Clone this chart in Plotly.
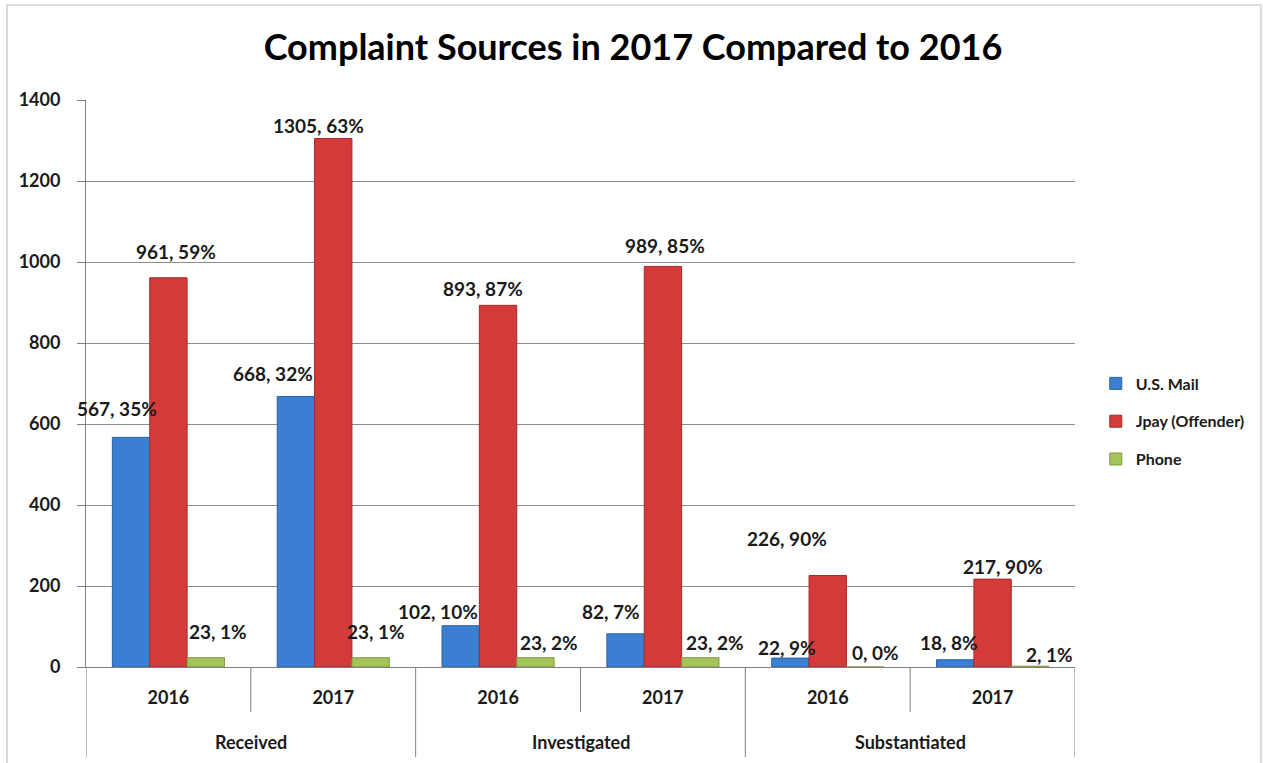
import plotly.graph_objects as go

# ---- data ----
stages = ["Received", "Investigated", "Substantiated"]
years = ["2016", "2017"]
series_names = ["U.S. Mail", "Jpay (Offender)", "Phone"]
us_mail = [567, 668, 102, 82, 22, 18]
us_mail_pct = ["35%", "32%", "10%", "7%", "9%", "8%"]
jpay = [961, 1305, 893, 989, 226, 217]
jpay_pct = ["59%", "63%", "87%", "85%", "90%", "90%"]
phone = [23, 23, 23, 23, 0, 2]
phone_pct = ["1%", "1%", "2%", "2%", "0%", "1%"]
y_ticks = [0, 200, 400, 600, 800, 1000, 1200, 1400]

# ---- styles ----
colors = ["#3a7fd2", "#d43a3a", "#a4c45a"]
edge_colors = ["#2c62a6", "#a52a2a", "#7f9a3e"]
# label nudges (px) relative to top-centre of each bar
nudge_dx = [[-14, -23, -23, -15, -3, -6],
            [8, -15, -15, 2, -41, 10],
            [12, 5, 14, 15, 10, 20]]
nudge_dy = [[29, 23, 14, 22, 11, 17],
            [26, 13, 17, 21, 37, 13],
            [26, 26, 15, 15, 15, 12]]

FONT = "Lato, 'Open Sans', sans-serif"
BARGAP = 0.32
n_series = 3
bar_w = (1 - BARGAP) / n_series

cat_labels = [y for s in stages for y in years]
x_pos = list(range(len(cat_labels)))

fig = go.Figure()
all_vals = [us_mail, jpay, phone]
all_pct = [us_mail_pct, jpay_pct, phone_pct]
for i, (name, vals) in enumerate(zip(series_names, all_vals)):
    fig.add_trace(go.Bar(
        x=x_pos, y=vals, name=name, legendgroup=name,
        marker=dict(color=colors[i], line=dict(color=edge_colors[i], width=1)),
        hoverinfo="y+name",
    ))

annotations = []
for i in range(n_series):
    off = (i - 1) * bar_w
    for k, (v, p) in enumerate(zip(all_vals[i], all_pct[i])):
        annotations.append(dict(
            x=x_pos[k] + off, y=v, xref="x", yref="y",
            text=f"{v}, {p}", showarrow=False,
            xanchor="center", yanchor="middle",
            xshift=nudge_dx[i][k], yshift=nudge_dy[i][k],
            font=dict(family=FONT, size=19, color="#1a1a1a", weight="bold"),
        ))

# outer category labels
for j, s in enumerate(stages):
    annotations.append(dict(
        x=2 * j + 0.5, y=-0.132, xref="x", yref="paper",
        text=s, showarrow=False, xanchor="center", yanchor="middle",
        font=dict(family=FONT, size=18, color="#1a1a1a", weight="bold"),
    ))

shapes = []
# inner dividers (between years)
for j in range(len(stages)):
    shapes.append(dict(type="line", xref="x", yref="paper",
                       x0=2 * j + 0.5, x1=2 * j + 0.5, y0=0, y1=-0.079,
                       line=dict(color="#7f7f7f", width=1)))
# outer dividers (between stages)
for j in range(len(stages) + 1):
    shapes.append(dict(type="line", xref="x", yref="paper",
                       x0=2 * j - 0.5, x1=2 * j - 0.5, y0=0, y1=-0.159,
                       line=dict(color="#7f7f7f", width=1)))
# chart border
shapes.append(dict(type="rect", xref="paper", yref="paper",
                   x0=-0.0799, x1=1.188, y0=-0.18, y1=1.1675,
                   line=dict(color="#cfcfcf", width=1.5), layer="below"))

fig.update_layout(
    width=1263, height=763,
    margin=dict(l=86, r=188, t=100, b=96),
    paper_bgcolor="white", plot_bgcolor="white",
    barmode="group", bargap=BARGAP, bargroupgap=0,
    title=dict(text="Complaint Sources in 2017 Compared to 2016",
               x=633 / 1263, xanchor="center", xref="container",
               y=1 - 47 / 763, yanchor="middle",
               font=dict(family=FONT, size=36, color="#000000", weight="bold")),
    legend=dict(x=1.021, xanchor="left", y=0.433, yanchor="middle",
                itemwidth=30,
                font=dict(family=FONT, size=16, color="#1a1a1a", weight="bold"),
                tracegroupgap=14, bgcolor="rgba(0,0,0,0)"),
    annotations=annotations, shapes=shapes,
    showlegend=True,
)
fig.update_xaxes(
    range=[-0.5, 5.5], tickvals=x_pos, ticktext=cat_labels,
    ticks="", showgrid=False, zeroline=False,
    showline=True, linecolor="#7f7f7f", linewidth=1,
    ticklabelstandoff=14,
    tickfont=dict(family=FONT, size=18, color="#1a1a1a", weight="bold"),
)
fig.update_yaxes(
    range=[0, 1400], tickvals=y_ticks,
    showgrid=True, gridcolor="#8c8c8c", gridwidth=1,
    zeroline=False, showline=True, linecolor="#7f7f7f", linewidth=1,
    ticks="outside", ticklen=8, tickcolor="#7f7f7f",
    ticklabelstandoff=13,
    tickfont=dict(family=FONT, size=18, color="#1a1a1a", weight="bold"),
)

fig.write_html("out.html")
